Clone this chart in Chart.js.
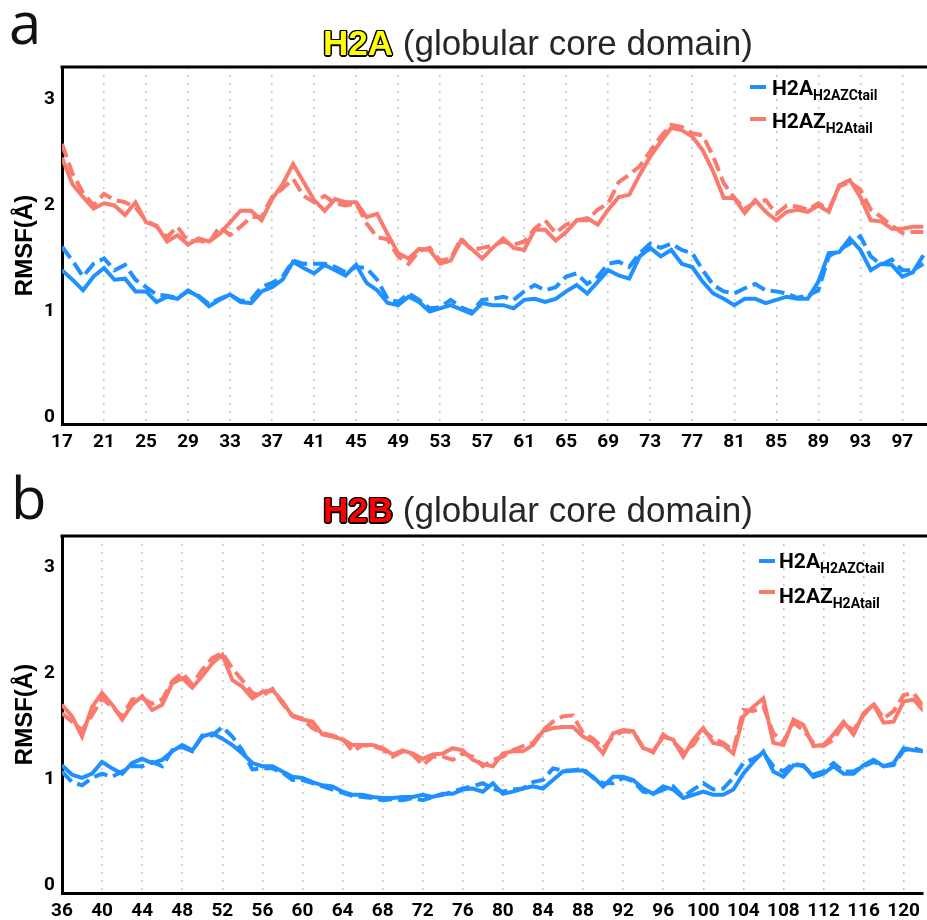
<!DOCTYPE html>
<html>
<head>
<meta charset="utf-8">
<script src="https://cdn.jsdelivr.net/npm/chart.js@4.4.1/dist/chart.umd.min.js"></script>
<style>
  html, body { margin: 0; padding: 0; background: #fff; }
  #page { position: relative; width: 927px; height: 920px; overflow: hidden; }
  canvas { position: absolute; left: 0; }
  .letter { position: absolute; font-family: 'Open Sans', sans-serif; font-size: 58px; line-height: 58px; color: #111; }
  .title { position: absolute; left: 323px; font-family: 'Liberation Sans', Arial, sans-serif; font-size: 35px; line-height: 35px; color: #262626; white-space: nowrap; }
  .title b {
    text-shadow: -1.5px 0 #000, 1.5px 0 #000, 0 -1.5px #000, 0 1.5px #000,
      -1px -1px #000, 1px 1px #000, -1px 1px #000, 1px -1px #000;
  }
  .swatch { position: absolute; width: 16px; height: 4px; }
  .ltext { position: absolute; font-family: Roboto, 'Liberation Sans', sans-serif; font-weight: bold; font-size: 21px; line-height: 22px; color: #000; white-space: nowrap; }
  .ltext span { font-size: 14px; vertical-align: -5px; }
</style>
</head>
<body>
<div id="page">
  <canvas id="chartA" width="927" height="460" style="top:0"></canvas>
  <canvas id="chartB" width="927" height="460" style="top:460px"></canvas>

  <div class="letter" style="left:9px;top:-7px">a</div>
  <div class="title" style="top:25px"><b style="color:#ffff00">H2A</b> (globular core domain)</div>

  <div class="letter" style="left:11px;top:468px">b</div>
  <div class="title" style="top:492px"><b style="color:#ff0000">H2B</b> (globular core domain)</div>

  <div class="swatch" style="left:750px;top:85px;background:#1e90ff"></div>
  <div class="ltext" style="left:772px;top:77px">H2A<span>H2AZCtail</span></div>
  <div class="swatch" style="left:750px;top:117px;background:#fa7a6e"></div>
  <div class="ltext" style="left:772px;top:110px">H2AZ<span>H2Atail</span></div>

  <div class="swatch" style="left:759px;top:559px;background:#1e90ff"></div>
  <div class="ltext" style="left:779px;top:550px">H2A<span>H2AZCtail</span></div>
  <div class="swatch" style="left:759px;top:590px;background:#fa7a6e"></div>
  <div class="ltext" style="left:779px;top:585px">H2AZ<span>H2Atail</span></div>
</div>

<script>
// ---- panel a : H2A globular core, residues 17-99 ----
const residuesA = Array.from({ length: 83 }, (_, i) => 17 + i);
const ticksA = [17, 21, 25, 29, 33, 37, 41, 45, 49, 53, 57, 61, 65, 69, 73, 77, 81, 85, 89, 93, 97];

const aBlueSolid = [
  1.39, 1.30, 1.20, 1.33, 1.41, 1.30, 1.31, 1.19, 1.19, 1.09,
  1.14, 1.12, 1.20, 1.14, 1.05, 1.11, 1.16, 1.09, 1.08, 1.19,
  1.23, 1.30, 1.47, 1.41, 1.36, 1.44, 1.39, 1.34, 1.44, 1.27,
  1.20, 1.08, 1.06, 1.14, 1.09, 1.00, 1.03, 1.06, 1.02, 0.98,
  1.08, 1.06, 1.06, 1.03, 1.11, 1.12, 1.09, 1.12, 1.19, 1.25,
  1.17, 1.28, 1.39, 1.34, 1.31, 1.52, 1.60, 1.52, 1.58, 1.45,
  1.42, 1.28, 1.17, 1.12, 1.06, 1.12, 1.12, 1.08, 1.11, 1.14,
  1.12, 1.12, 1.28, 1.55, 1.56, 1.69, 1.58, 1.39, 1.45, 1.44,
  1.33, 1.37, 1.53
];
const aBlueDashed = [
  1.61, 1.48, 1.33, 1.45, 1.50, 1.39, 1.44, 1.30, 1.23, 1.16,
  1.15, 1.13, 1.19, 1.15, 1.07, 1.12, 1.16, 1.10, 1.11, 1.23,
  1.27, 1.33, 1.48, 1.45, 1.45, 1.45, 1.42, 1.37, 1.42, 1.41,
  1.30, 1.12, 1.09, 1.17, 1.11, 1.03, 1.04, 1.11, 1.04, 1.00,
  1.11, 1.12, 1.14, 1.11, 1.19, 1.25, 1.20, 1.23, 1.33, 1.36,
  1.26, 1.33, 1.45, 1.47, 1.42, 1.55, 1.64, 1.60, 1.64, 1.58,
  1.55, 1.39, 1.25, 1.19, 1.17, 1.22, 1.26, 1.20, 1.19, 1.17,
  1.13, 1.15, 1.20, 1.52, 1.58, 1.64, 1.71, 1.52, 1.44, 1.49,
  1.39, 1.39, 1.45
];
const aRedSolid = [
  2.45, 2.20, 2.08, 1.97, 2.02, 2.00, 1.91, 2.03, 1.84, 1.81,
  1.66, 1.72, 1.63, 1.69, 1.66, 1.73, 1.84, 1.95, 1.95, 1.86,
  2.06, 2.20, 2.39, 2.22, 2.05, 1.95, 2.06, 2.03, 2.03, 1.89,
  1.92, 1.73, 1.55, 1.50, 1.59, 1.58, 1.45, 1.48, 1.67, 1.59,
  1.50, 1.60, 1.69, 1.60, 1.58, 1.77, 1.77, 1.67, 1.75, 1.86,
  1.88, 1.82, 1.96, 2.08, 2.10, 2.29, 2.46, 2.60, 2.73, 2.71,
  2.65, 2.52, 2.32, 2.07, 2.07, 1.93, 2.05, 1.94, 1.86, 1.94,
  1.96, 1.94, 2.00, 1.94, 2.19, 2.24, 2.08, 1.86, 1.85, 1.78,
  1.78, 1.80, 1.80
];
const aRedDashed = [
  2.58, 2.30, 2.12, 2.00, 2.11, 2.05, 2.03, 1.98, 1.86, 1.80,
  1.70, 1.80, 1.66, 1.67, 1.65, 1.80, 1.72, 1.80, 1.89, 1.89,
  2.08, 2.16, 2.25, 2.09, 2.03, 2.09, 2.02, 2.00, 2.02, 1.83,
  1.70, 1.68, 1.52, 1.45, 1.57, 1.60, 1.48, 1.50, 1.69, 1.58,
  1.60, 1.62, 1.66, 1.63, 1.66, 1.78, 1.86, 1.74, 1.82, 1.86,
  1.86, 1.96, 2.02, 2.22, 2.29, 2.37, 2.51, 2.65, 2.76, 2.74,
  2.68, 2.66, 2.46, 2.21, 2.07, 1.97, 2.03, 2.05, 1.92, 2.00,
  1.99, 1.96, 2.02, 1.96, 2.18, 2.22, 2.15, 1.96, 1.89, 1.81,
  1.74, 1.75, 1.75
];

// ---- panel b : H2B globular core, residues 36-122 ----
const residuesB = Array.from({ length: 87 }, (_, i) => 36 + i);
const ticksB = [36, 40, 44, 48, 52, 56, 60, 64, 68, 72, 76, 80, 84, 88, 92, 96, 100, 104, 108, 112, 116, 120];

const bBlueSolid = [
  1.13, 1.04, 1.01, 1.05, 1.16, 1.10, 1.05, 1.15, 1.19, 1.15,
  1.18, 1.26, 1.32, 1.27, 1.40, 1.43, 1.38, 1.32, 1.24, 1.15,
  1.12, 1.12, 1.07, 1.02, 1.01, 0.97, 0.94, 0.93, 0.88, 0.85,
  0.85, 0.83, 0.82, 0.82, 0.83, 0.83, 0.85, 0.83, 0.86, 0.86,
  0.90, 0.91, 0.88, 0.96, 0.86, 0.88, 0.91, 0.93, 0.91, 0.99,
  1.07, 1.08, 1.08, 1.02, 0.93, 1.02, 1.02, 0.99, 0.91, 0.86,
  0.93, 0.90, 0.82, 0.85, 0.88, 0.85, 0.85, 0.90, 1.05, 1.16,
  1.26, 1.07, 1.02, 1.13, 1.13, 1.02, 1.05, 1.12, 1.05, 1.05,
  1.13, 1.18, 1.12, 1.15, 1.29, 1.27, 1.26
];
const bBlueDashed = [
  1.07, 0.97, 0.94, 1.01, 1.05, 1.02, 1.07, 1.12, 1.12, 1.16,
  1.12, 1.27, 1.30, 1.26, 1.41, 1.41, 1.49, 1.40, 1.27, 1.09,
  1.10, 1.10, 1.06, 0.99, 0.99, 0.96, 0.93, 0.90, 0.87, 0.84,
  0.83, 0.82, 0.80, 0.81, 0.80, 0.82, 0.80, 0.83, 0.85, 0.88,
  0.91, 0.93, 0.96, 0.91, 0.88, 0.90, 0.91, 0.97, 0.99, 1.10,
  1.08, 1.08, 1.10, 1.01, 0.96, 0.96, 1.01, 0.98, 0.88, 0.86,
  0.90, 0.93, 0.83, 0.90, 0.96, 0.90, 0.91, 1.01, 1.15, 1.19,
  1.24, 1.12, 1.07, 1.15, 1.12, 1.04, 1.07, 1.15, 1.07, 1.07,
  1.12, 1.16, 1.12, 1.13, 1.27, 1.29, 1.26
];
const bRedSolid = [
  1.70, 1.59, 1.40, 1.68, 1.81, 1.70, 1.56, 1.70, 1.78, 1.65,
  1.70, 1.90, 1.95, 1.86, 1.97, 2.09, 2.17, 1.93, 1.87, 1.76,
  1.82, 1.84, 1.73, 1.59, 1.56, 1.54, 1.42, 1.40, 1.37, 1.32,
  1.32, 1.32, 1.29, 1.23, 1.27, 1.24, 1.19, 1.23, 1.24, 1.29,
  1.27, 1.18, 1.14, 1.12, 1.24, 1.26, 1.26, 1.32, 1.45, 1.48,
  1.49, 1.49, 1.40, 1.35, 1.24, 1.43, 1.46, 1.45, 1.29, 1.26,
  1.40, 1.37, 1.21, 1.37, 1.48, 1.34, 1.32, 1.24, 1.59, 1.68,
  1.76, 1.34, 1.32, 1.56, 1.51, 1.31, 1.32, 1.42, 1.54, 1.42,
  1.62, 1.70, 1.53, 1.54, 1.73, 1.75, 1.64
];
const bRedDashed = [
  1.62, 1.54, 1.46, 1.60, 1.76, 1.68, 1.59, 1.75, 1.76, 1.71,
  1.75, 1.92, 2.00, 1.89, 2.03, 2.14, 2.19, 2.04, 1.93, 1.81,
  1.78, 1.85, 1.71, 1.60, 1.57, 1.48, 1.43, 1.41, 1.38, 1.26,
  1.32, 1.31, 1.28, 1.21, 1.26, 1.23, 1.13, 1.21, 1.21, 1.18,
  1.24, 1.21, 1.12, 1.18, 1.21, 1.27, 1.31, 1.34, 1.46, 1.54,
  1.59, 1.60, 1.43, 1.38, 1.29, 1.40, 1.45, 1.44, 1.30, 1.25,
  1.42, 1.35, 1.26, 1.32, 1.46, 1.38, 1.34, 1.27, 1.65, 1.64,
  1.68, 1.43, 1.35, 1.53, 1.46, 1.34, 1.31, 1.37, 1.52, 1.46,
  1.60, 1.71, 1.57, 1.64, 1.79, 1.81, 1.68
];

const yTicks = [0, 1, 2, 3];
const BLUE = '#1e90ff';
const RED = '#fa7a6e';
const tickFont = { family: "Roboto, 'Liberation Sans', sans-serif", size: 19, weight: 'bold' };

// thick line along the top of the plot area
const topFrame = {
  id: 'topFrame',
  afterDraw(chart) {
    const { ctx, chartArea } = chart;
    ctx.save();
    ctx.strokeStyle = '#000';
    ctx.lineWidth = 3;
    ctx.beginPath();
    ctx.moveTo(chartArea.left - 1.5, chartArea.top);
    ctx.lineTo(chart.width, chartArea.top);
    ctx.stroke();
    ctx.restore();
  }
};

function points(xs, ys) {
  return xs.map((x, i) => ({ x: x, y: ys[i] }));
}

function line(xs, ys, color, dashed) {
  return {
    data: points(xs, ys),
    borderColor: color,
    borderWidth: 4,
    borderDash: dashed ? [14, 6] : [],
    pointRadius: 0,
    tension: 0,
    fill: false
  };
}

function makeChart(id, o) {
  return new Chart(document.getElementById(id), {
    type: 'line',
    data: {
      datasets: [
        line(o.residues, o.blueDashed, BLUE, true),
        line(o.residues, o.blueSolid, BLUE, false),
        line(o.residues, o.redDashed, RED, true),
        line(o.residues, o.redSolid, RED, false)
      ]
    },
    options: {
      responsive: false,
      animation: false,
      layout: { padding: { top: o.padTop, left: 0, right: 0, bottom: 0 } },
      plugins: { legend: { display: false }, title: { display: false }, tooltip: { enabled: false } },
      scales: {
        x: {
          type: 'linear',
          min: o.xMin,
          max: o.xMax,
          afterBuildTicks: s => { s.ticks = o.xTicks.map(v => ({ value: v })); },
          afterFit: s => { s.height = o.xAxisH; },
          ticks: { font: tickFont, color: '#000', padding: 7, maxRotation: 0, autoSkip: false },
          grid: {
            drawTicks: false,
            lineWidth: 1.5,
            color: c => (c.tick && c.tick.value === o.xTicks[0]) ? 'rgba(0,0,0,0)' : '#c4c4c4'
          },
          border: { display: true, width: 3, color: '#000', dash: [2, 6] }
        },
        y: {
          min: o.yMin,
          max: o.yMax,
          afterBuildTicks: s => { s.ticks = yTicks.map(v => ({ value: v })); },
          afterFit: s => { s.width = 62; },
          ticks: { font: tickFont, color: '#000', padding: 7 },
          grid: { display: false, drawTicks: false },
          border: { display: true, width: 3, color: '#000' },
          title: {
            display: true,
            text: 'RMSF(Å)',
            color: '#000',
            font: { family: "'Liberation Sans', Arial, sans-serif", size: 24, weight: 'bold' },
            padding: { top: 11, bottom: 0 }
          }
        }
      }
    },
    plugins: [topFrame]
  });
}

makeChart('chartA', {
  residues: residuesA, xTicks: ticksA, xMin: 17, xMax: 99.35, yMin: -0.06, yMax: 3.305,
  padTop: 67, xAxisH: 36,
  blueSolid: aBlueSolid, blueDashed: aBlueDashed, redSolid: aRedSolid, redDashed: aRedDashed
});

makeChart('chartB', {
  residues: residuesB, xTicks: ticksB, xMin: 36, xMax: 121.9, yMin: -0.075, yMax: 3.29,
  padTop: 76, xAxisH: 27,
  blueSolid: bBlueSolid, blueDashed: bBlueDashed, redSolid: bRedSolid, redDashed: bRedDashed
});
</script>
</body>
</html>
